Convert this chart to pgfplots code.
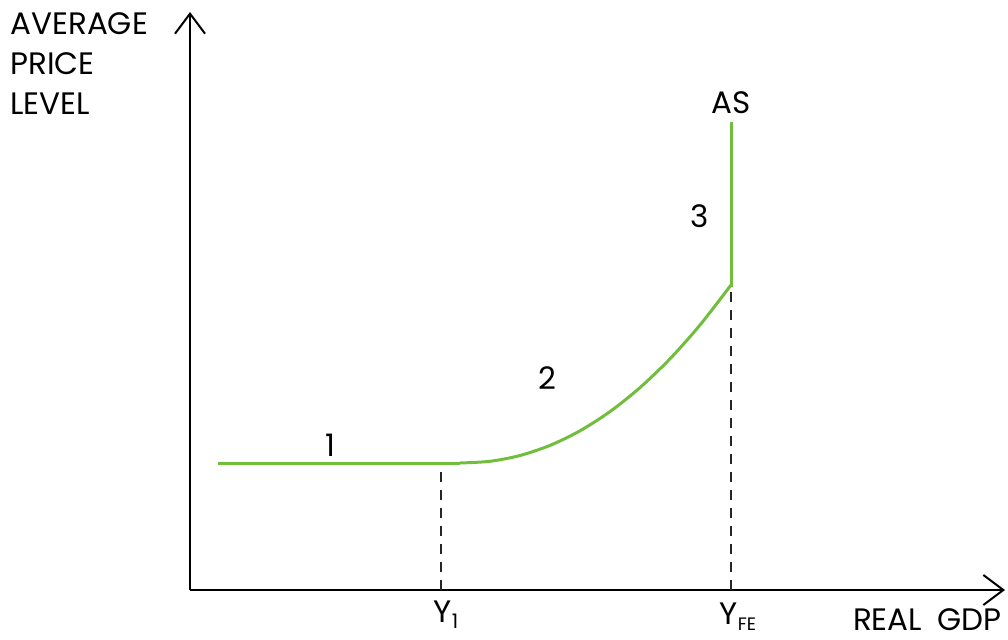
\documentclass[border=0pt]{standalone}
\usepackage{pgfplots}
\pgfplotsset{compat=1.18}
\usetikzlibrary{arrows.meta}
\usepackage{fontspec}
\setmainfont{Poppins}
\definecolor{asgreen}{RGB}{112,190,60}
\begin{document}
\begin{tikzpicture}[font=\fontsize{15.5}{18}\selectfont]
\begin{axis}[
  x=0.5pt, y=0.5pt,
  xmin=0, xmax=1008, ymin=0, ymax=639,
  hide axis, clip=false,
]
\path (axis cs:0,0) rectangle (axis cs:1008,639);
% axes
\addplot[black, line width=1pt, -{Straight Barb[length=10pt,width=15pt,line width=1pt]}]
  coordinates {(190,49) (190,627)};
\addplot[black, line width=1pt, -{Straight Barb[length=10pt,width=15pt,line width=1pt]}]
  coordinates {(190,49) (1005,49)};
% dashed guides
\addplot[black!85, line width=0.8pt, dash pattern=on 5pt off 4pt] coordinates {(441,49) (441,176)};
\addplot[black!85, line width=0.8pt, dash pattern=on 5pt off 4pt] coordinates {(731,49) (731,354)};
% AS curve
\addplot[asgreen, line width=1.5pt] coordinates {(218,176) (460,176)};
\addplot[asgreen, line width=1.5pt, smooth] coordinates {
  (460,176) (490,177.7) (520,183.5) (550,193.6) (580,208.2) (610,227.4)
  (640,251.4) (670,280.2) (700,314) (731,354)};
\addplot[asgreen, line width=1.5pt] coordinates {(731,352) (731,517)};
% labels
\node[anchor=north west, align=left, inner sep=0pt] at (axis cs:10,627)
  {AVERAGE\\[2pt]PRICE\\[2pt]LEVEL};
\node at (axis cs:731,536) {AS};
\node at (axis cs:700,423) {3};
\node at (axis cs:547,261) {2};
\node at (axis cs:330,194) {1};
\node at (axis cs:446,24) {Y\raisebox{-3pt}{\fontsize{10}{11}\selectfont 1}};
\node at (axis cs:738,22) {Y\raisebox{-3pt}{\fontsize{9}{10}\selectfont FE}};
\node[anchor=east, inner sep=1pt] at (axis cs:1004,19) {REAL\hspace{0.5em}GDP};
\end{axis}
\end{tikzpicture}
\end{document}
